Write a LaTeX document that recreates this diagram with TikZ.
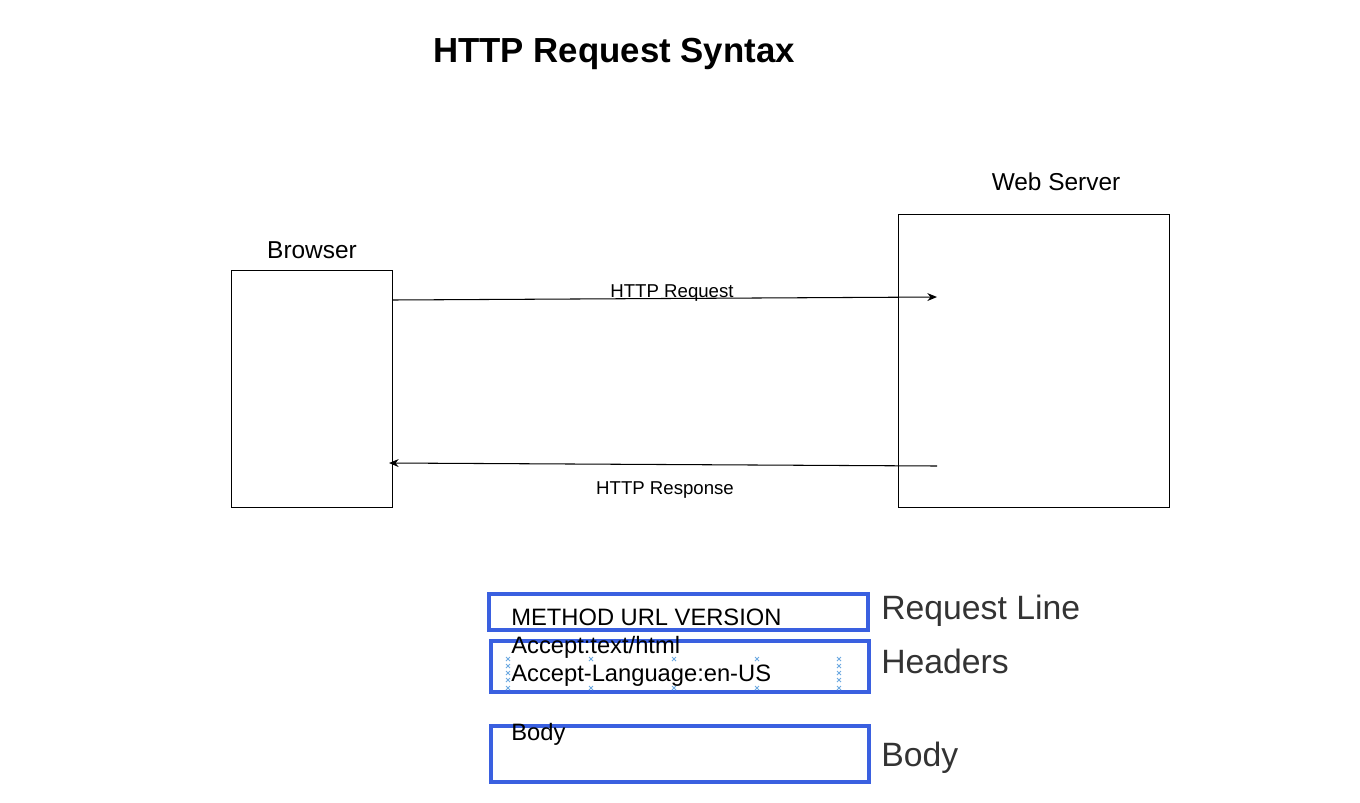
\documentclass[tikz,border=0pt]{standalone}
\usepackage{fontspec}
\setmainfont{Liberation Sans}
\usetikzlibrary{calc,arrows.meta}
\usepackage{xcolor}
\definecolor{partline}{RGB}{58,96,224}
\definecolor{handle}{RGB}{110,170,225}
\definecolor{partname}{RGB}{51,51,51}

\begin{document}
\begin{tikzpicture}[x=0.02cm, y=-0.02cm,
  hostbox/.style={draw, line width=0.6pt, inner sep=0, anchor=north west},
  partbox/.style={draw=partline, line width=2.3pt, inner sep=0, anchor=north west},
  message/.style={-{Stealth[length=5.5pt,width=4.5pt]}, line width=0.6pt},
  parttext/.style={anchor=base west, inner sep=0, font=\fontsize{13.5}{16}\selectfont},
  partlabel/.style={anchor=base west, inner sep=0, text=partname, font=\fontsize{19.2}{23}\selectfont}]
\useasboundingbox (0,0) rectangle (1360,802);
\node[anchor=base, font=\bfseries\fontsize{19.8}{24}\selectfont] (title) at (614,62) {HTTP Request Syntax};
% browser and server
\node[hostbox, minimum width=3.22cm, minimum height=4.74cm] (browser) at (231,270) {};
\node[hostbox, minimum width=5.42cm, minimum height=5.86cm] (server) at (898,214) {};
\node[anchor=base, font=\fontsize{13.9}{17}\selectfont] (browsername) at (312,258) {Browser};
\node[anchor=base, font=\fontsize{13.9}{17}\selectfont] (servername) at (1056,190) {Web Server};
\coordinate (reqstart) at (392,300);
\coordinate (reqend) at (937,297);
\coordinate (resstart) at (937,466);
\coordinate (resend) at (389,463);
\draw[message] (reqstart) -- (reqend);
\draw[message] (resstart) -- (resend);
\node[anchor=base, font=\fontsize{10.6}{13}\selectfont] (reqname) at (672,297) {HTTP Request};
\node[anchor=base, font=\fontsize{10.6}{13}\selectfont] (resname) at (665,494) {HTTP Response};
% request parts
\node[partbox, minimum width=7.58cm, minimum height=0.72cm] (linebox) at (487,592) {};
\node[partbox, minimum width=7.56cm, minimum height=1.02cm] (headbox) at (489,639) {};
\node[partbox, minimum width=7.56cm, minimum height=1.12cm] (bodybox) at (489,724) {};
\node[parttext] (linetext) at (511,625) {METHOD URL VERSION};
\node[parttext] (accepttext) at (511,653) {Accept:text/html};
\node[parttext] (langtext) at (511,681) {Accept-Language:en-US};
\node[parttext] (bodytext) at (511,740) {Body};
\node[partlabel] (linelabel) at (881,619) {Request Line};
\node[partlabel] (headlabel) at (881,673) {Headers};
\node[partlabel] (bodylabel) at (881,766) {Body};
% selection handles
\foreach \hx in {508,591,674,757,839}
  \foreach \hy in {659,688}
    \draw[handle, line width=0.5pt] (\hx-2,\hy-2) -- (\hx+2,\hy+2) (\hx-2,\hy+2) -- (\hx+2,\hy-2);
\foreach \hx in {508,839}
  \foreach \hy in {666,673,680}
    \draw[handle, line width=0.5pt] (\hx-2,\hy-2) -- (\hx+2,\hy+2) (\hx-2,\hy+2) -- (\hx+2,\hy-2);
\end{tikzpicture}
\end{document}
